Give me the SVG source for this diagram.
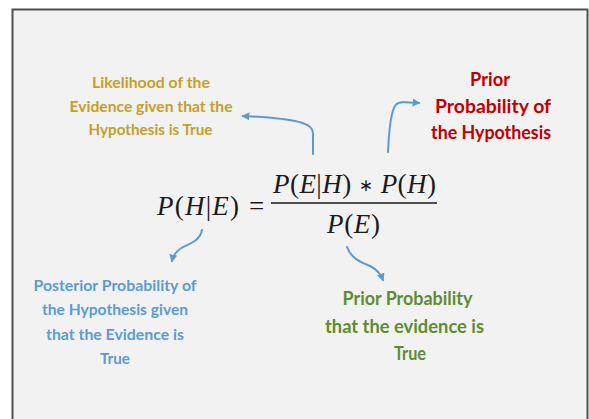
<svg xmlns="http://www.w3.org/2000/svg" width="589" height="419" viewBox="0 0 589 419">
<defs>
<marker id="ah" viewBox="0 0 10 10" refX="8" refY="5" markerWidth="4" markerHeight="4" orient="auto" markerUnits="strokeWidth">
<path d="M0,0 L10,5 L0,10 z" fill="#5b9bd5"/>
</marker>
<style>
.lbl{font-family:Lato,"Open Sans","Liberation Sans",sans-serif;font-weight:bold;text-anchor:middle}
.gold{fill:#c5a02a;font-size:16px}
.red{fill:#c00000;font-size:19px}
.blue{fill:#5b9bd5;font-size:15px}
.green{fill:#5e8c31;font-size:18px}
.m{font-family:"Liberation Serif","Times New Roman",serif;font-size:27px;fill:#1a1a1a}
.i{font-style:italic}
.ast{font-family:"DejaVu Sans",sans-serif;font-size:17px}
.conn{fill:none;stroke:#5b9bd5;stroke-width:2;stroke-linecap:round;marker-end:url(#ah)}
</style>
</defs>
<rect x="0" y="0" width="589" height="419" fill="#ffffff"/>
<rect x="12.5" y="9.5" width="575" height="430" fill="#f2f2f2" stroke="#505050" stroke-width="2"/>

<g id="formula">
<text class="m" x="157" y="215" textLength="82" lengthAdjust="spacing"><tspan class="i">P</tspan>(<tspan class="i">H</tspan>|<tspan class="i">E</tspan>)</text>
<text class="m" x="249" y="215">=</text>
<text class="m" x="273" y="193" textLength="163" lengthAdjust="spacing"><tspan class="i">P</tspan>(<tspan class="i">E</tspan>|<tspan class="i">H</tspan>) <tspan class="ast" dy="-2">∗</tspan><tspan dy="2"> </tspan><tspan class="i">P</tspan>(<tspan class="i">H</tspan>)</text>
<line x1="271" y1="203" x2="437" y2="203" stroke="#1a1a1a" stroke-width="1.6"/>
<text class="m" x="327" y="233" textLength="53" lengthAdjust="spacing"><tspan class="i">P</tspan>(<tspan class="i">E</tspan>)</text>
</g>

<g id="likelihood">
<text class="lbl gold" x="151" y="88" textLength="118" lengthAdjust="spacingAndGlyphs">Likelihood of the</text>
<text class="lbl gold" x="151" y="112" textLength="163" lengthAdjust="spacingAndGlyphs">Evidence given that the</text>
<text class="lbl gold" x="150.5" y="135" textLength="124" lengthAdjust="spacingAndGlyphs">Hypothesis is True</text>
</g>

<g id="prior-hypothesis">
<text class="lbl red" x="490" y="86" textLength="40" lengthAdjust="spacingAndGlyphs">Prior</text>
<text class="lbl red" x="493" y="112.5" textLength="116" lengthAdjust="spacingAndGlyphs">Probability of</text>
<text class="lbl red" x="491" y="138.5" textLength="120" lengthAdjust="spacingAndGlyphs">the Hypothesis</text>
</g>

<g id="posterior">
<text class="lbl blue" x="115" y="291" textLength="163" lengthAdjust="spacingAndGlyphs">Posterior Probability of</text>
<text class="lbl blue" x="115" y="315" textLength="146" lengthAdjust="spacingAndGlyphs">the Hypothesis given</text>
<text class="lbl blue" x="115" y="340" textLength="138" lengthAdjust="spacingAndGlyphs">that the Evidence is</text>
<text class="lbl blue" x="115" y="363.5" textLength="30" lengthAdjust="spacingAndGlyphs">True</text>
</g>

<g id="prior-evidence">
<text class="lbl green" x="407.5" y="305" textLength="130" lengthAdjust="spacingAndGlyphs">Prior Probability</text>
<text class="lbl green" x="404.5" y="333" textLength="159" lengthAdjust="spacingAndGlyphs">that the evidence is</text>
<text class="lbl green" x="410" y="360" textLength="32" lengthAdjust="spacingAndGlyphs">True</text>
</g>

<g id="connectors">
<path class="conn" d="M313,154 L313,133 C313,124 300,120 262,117 L243,116"/>
<path class="conn" d="M388,152 C389,130 391,112 395,106 C398,101 405,102 419,103"/>
<path class="conn" d="M202,230 C200,240 192,243 183,247 C176,251 173,256 172,261"/>
<path class="conn" d="M347,247 C351,258 360,262 370,266 C378,270 381,275 383,280"/>
</g>
</svg>
